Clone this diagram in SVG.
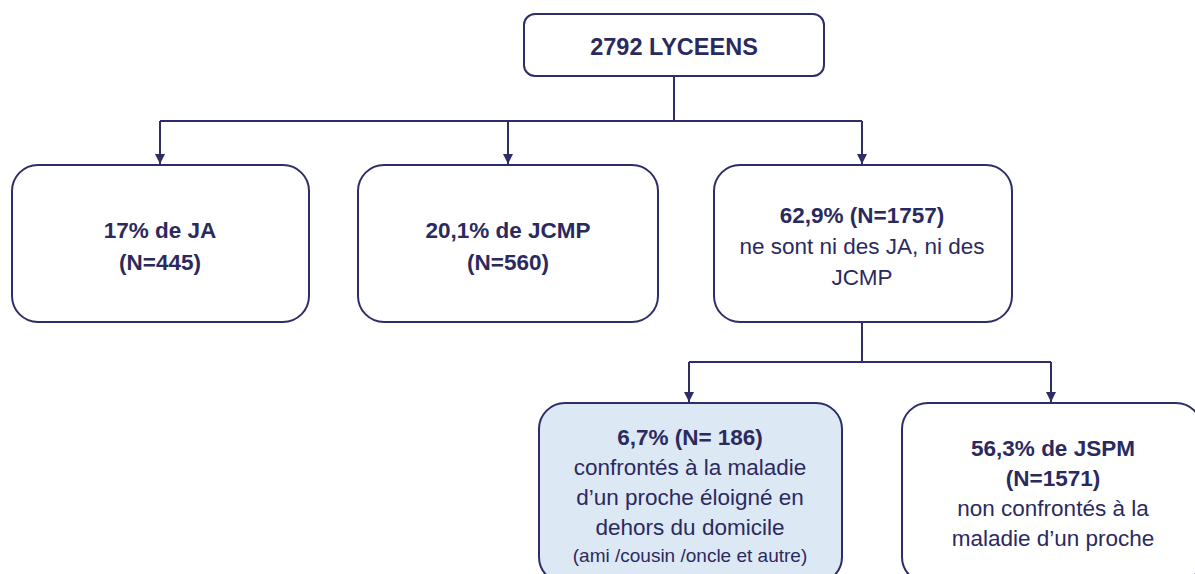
<svg xmlns="http://www.w3.org/2000/svg" width="1195" height="574" viewBox="0 0 1195 574">
<style>
.box{fill:#ffffff;stroke:#2e2d68;stroke-width:2}
.hl{fill:#dde8f5}
.t{font-family:"Liberation Sans",Arial,sans-serif;font-size:22.5px;fill:#2b2a5e;text-anchor:middle}
.b{font-weight:bold}
.r{font-size:23.5px}
.s{font-size:19px}
.c{fill:none;stroke:#2e2d68;stroke-width:2}
</style>
<defs>
<marker id="ah" markerWidth="12" markerHeight="12" refX="10" refY="6" orient="auto" markerUnits="userSpaceOnUse" viewBox="0 0 12 12">
<path d="M0,1 L10,6 L0,11 Z" fill="#2e2d68"/>
</marker>
</defs>
<g id="connectors">
<path class="c" d="M674,76 V121 M160,121 H862"/>
<path class="c" d="M160,121 V164" marker-end="url(#ah)"/>
<path class="c" d="M508,121 V164" marker-end="url(#ah)"/>
<path class="c" d="M862,121 V164" marker-end="url(#ah)"/>
<path class="c" d="M862,322 V362 M689,362 H1051"/>
<path class="c" d="M689,362 V402" marker-end="url(#ah)"/>
<path class="c" d="M1051,362 V402" marker-end="url(#ah)"/>
</g>
<g id="n-root">
<rect class="box" x="524" y="14" width="300" height="62" rx="11"/>
<text class="t b r" x="674" y="55">2792 LYCEENS</text>
</g>
<g id="n-ja">
<rect class="box" x="12" y="165" width="297" height="157" rx="26"/>
<text class="t b" x="160" y="238">17% de JA</text>
<text class="t b" x="160" y="270">(N=445)</text>
</g>
<g id="n-jcmp">
<rect class="box" x="358" y="165" width="300" height="157" rx="26"/>
<text class="t b" x="508" y="238">20,1% de JCMP</text>
<text class="t b" x="508" y="270">(N=560)</text>
</g>
<g id="n-other">
<rect class="box" x="714" y="165" width="298" height="157" rx="26"/>
<text class="t b" x="862" y="223">62,9% (N=1757)</text>
<text class="t" x="862" y="254">ne sont ni des JA, ni des</text>
<text class="t" x="862" y="285">JCMP</text>
</g>
<g id="n-proche">
<rect class="box hl" x="539" y="403" width="303" height="180" rx="26"/>
<text class="t b" x="690" y="445">6,7% (N= 186)</text>
<text class="t" x="690" y="475">confrontés à la maladie</text>
<text class="t" x="690" y="505">d’un proche éloigné en</text>
<text class="t" x="690" y="535">dehors du domicile</text>
<text class="t s" x="690" y="562">(ami /cousin /oncle et autre)</text>
</g>
<g id="n-jspm">
<rect class="box" x="902" y="403" width="300" height="180" rx="26"/>
<text class="t b" x="1053" y="456">56,3% de JSPM</text>
<text class="t b" x="1053" y="486">(N=1571)</text>
<text class="t" x="1053" y="516">non confrontés à la</text>
<text class="t" x="1053" y="546">maladie d’un proche</text>
</g>
</svg>
